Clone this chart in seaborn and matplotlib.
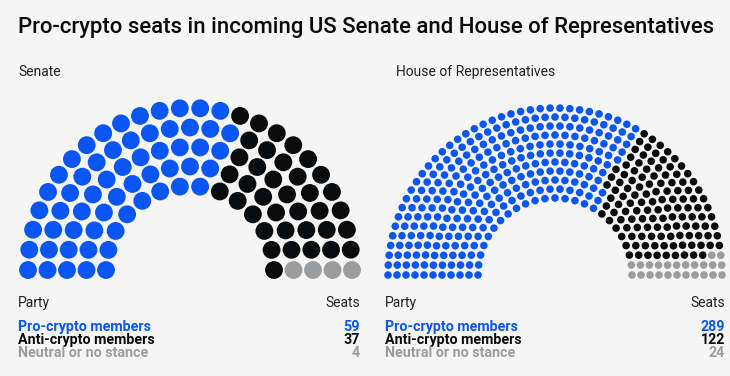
import matplotlib
matplotlib.use("Agg")
import matplotlib.pyplot as plt
import numpy as np
import pandas as pd
import seaborn as sns

# seat counts
parties = ["Pro-crypto members", "Anti-crypto members", "Neutral or no stance"]
senate_seats = [59, 37, 4]
house_seats = [289, 122, 24]
palette = ["#0a56f4", "#0a0b0d", "#9a9c9e"]
BG = "#f5f5f5"


def parliament(seats, n_rows, center, r_in, r_out):
    """Lay seats out on concentric half rings, filled left to right by angle."""
    total = sum(seats)
    radii = np.linspace(r_in, r_out, n_rows)
    raw = total * radii / radii.sum()
    counts = np.floor(raw).astype(int)
    rest = total - counts.sum()
    counts[np.argsort(-(raw - counts))[:rest]] += 1
    rows = []
    for r, n in zip(radii, counts):
        for a in np.linspace(np.pi, 0, n):
            rows.append((a, r))
    df = pd.DataFrame(rows, columns=["angle", "radius"])
    df = df.sort_values(["angle", "radius"], ascending=[False, True]).reset_index(drop=True)
    df["party"] = np.repeat(parties, seats)
    df["x"] = center[0] + df.radius * np.cos(df.angle)
    df["y"] = center[1] - df.radius * np.sin(df.angle)
    return df


def legend_block(ax, x0, x1, seats):
    ax.text(x0, 303, "Party", fontsize=10, color="#222222", va="center")
    ax.text(x1, 303, "Seats", fontsize=10, color="#222222", va="center", ha="right")
    for i, (p, n, c) in enumerate(zip(parties, seats, palette)):
        y = 327 + i * 13
        ax.text(x0, y, p, fontsize=10.3, fontweight="bold", color=c, va="center")
        ax.text(x1, y, str(n), fontsize=10.3, fontweight="bold", color=c, va="center", ha="right")


def main():
    sns.set_theme(style="white")
    plt.rcParams["font.family"] = ["Roboto", "DejaVu Sans"]

    fig = plt.figure(figsize=(7.3, 3.76), dpi=100, facecolor=BG)
    ax = fig.add_axes([0, 0, 1, 1])
    ax.set_facecolor(BG)
    ax.set_xlim(0, 730)
    ax.set_ylim(376, 0)
    ax.axis("off")

    senate = parliament(senate_seats, 5, (190, 270), 84, 162)
    house = parliament(house_seats, 11, (555, 275), 77, 167)

    sns.scatterplot(data=senate, x="x", y="y", hue="party", hue_order=parties,
                    palette=palette, s=165, linewidth=0, legend=False, ax=ax)
    sns.scatterplot(data=house, x="x", y="y", hue="party", hue_order=parties,
                    palette=palette, s=30, linewidth=0, legend=False, ax=ax)

    ax.text(18, 27, "Pro-crypto seats in incoming US Senate and House of Representatives",
            fontsize=15.9, fontweight="medium", color="#0a0b0d", va="center")
    ax.text(18, 72, "Senate", fontsize=10, color="#222222", va="center")
    ax.text(396, 72, "House of Representatives", fontsize=10, color="#222222", va="center")

    legend_block(ax, 18, 360, senate_seats)
    legend_block(ax, 385, 725, house_seats)

    fig.savefig("out.png", dpi=100, facecolor=BG)


if __name__ == "__main__":
    main()
